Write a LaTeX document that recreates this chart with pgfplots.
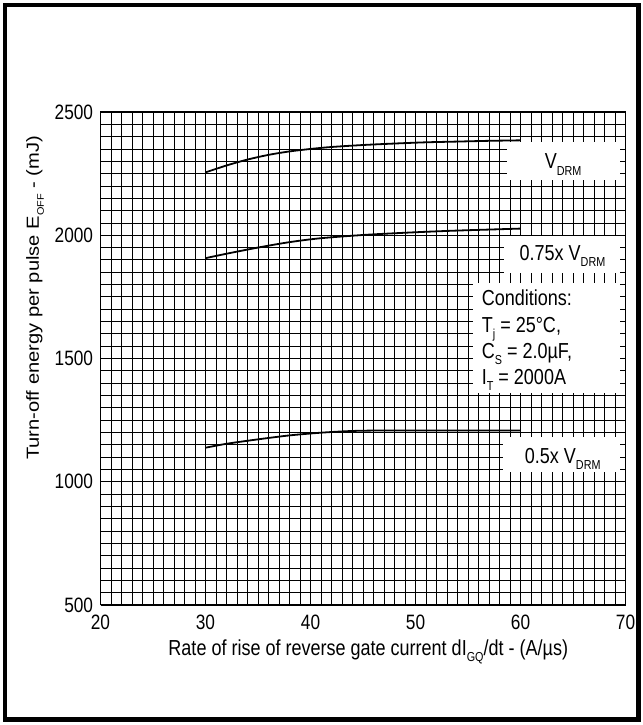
\documentclass[border=0pt]{standalone}
\usepackage{pgfplots}
\pgfplotsset{compat=1.18}
\usepackage{fontspec}
% the datasheet lettering is tall and narrow
\setmainfont{Liberation Sans}[FakeStretch=0.83]
\newfontfamily\ylabfont{Liberation Sans}[FakeStretch=1.15]

% subscript as in the datasheet: small and lowered
\newcommand\sub[1]{\raisebox{-6.5bp}{\fontsize{13bp}{13bp}\selectfont #1}}
\newcommand\ysub[1]{\raisebox{-5bp}{\fontsize{9.5bp}{10bp}\selectfont #1}}

% grid below the plots, ticks and axis lines above the white label boxes
\pgfplotsset{
  layers/grid under/.define layer set={
    axis background,axis grid,pre main,main,axis ticks,axis lines,axis tick labels,axis descriptions,axis foreground
  }{
    grid style={/pgfplots/on layer=axis grid},
    tick style={/pgfplots/on layer=axis ticks},
    axis line style={/pgfplots/on layer=axis lines},
    label style={/pgfplots/on layer=axis descriptions},
    ticklabel style={/pgfplots/on layer=axis tick labels},
  },
}

\begin{document}
\fontsize{21.7bp}{25bp}\selectfont
\begin{tikzpicture}
\begin{axis}[
    width=525bp, height=493bp, scale only axis,
    set layers=grid under,
    xmin=20, xmax=70, ymin=500, ymax=2500,
    xtick={20,30,...,70}, ytick={500,1000,...,2500},
    minor x tick num=9, minor y tick num=9,
    grid=both,
    major grid style={black, line width=0.8bp},
    minor grid style={black, line width=0.8bp},
    tick align=inside,
    major tick length=6bp, minor tick length=6bp,
    tick style={black, line width=0.8bp},
    axis line style={line width=1bp},
    /pgf/number format/assume math mode=true,
    /pgf/number format/set thousands separator={},
    ticklabel style={font=\fontsize{20.8bp}{24bp}\selectfont},
    xticklabel style={yshift=-3bp},
    yticklabel style={xshift=0bp},
    xlabel={Rate of rise of reverse gate current dI\sub{GQ}/dt - (A/µs)},
    ylabel={Turn-off energy per pulse E\ysub{OFF} - (mJ)},
    xlabel style={at={(axis description cs:0.51,0)}, anchor=base, yshift=-50bp},
    ylabel style={at={(axis description cs:-0.1248,0.623)}, anchor=center,
      font=\ylabfont\fontsize{17.5bp}{20bp}\selectfont},
  ]
  \coordinate (P) at (rel axis cs:0,0);

  % white label boxes over the grid
  \fill[white] (axis cs:58.7,2225) rectangle (axis cs:70,2377);
  \fill[white] (axis cs:58.4,1846) rectangle (axis cs:70,1995);
  \fill[white] (axis cs:55.5,1360) rectangle (axis cs:70,1808);
  \fill[white] (axis cs:58.3,1040) rectangle (axis cs:70,1180);

  % V_DRM
  \addplot[black, line width=1.8bp, smooth, tension=0.5] coordinates {
    (30,2255) (32,2283) (34,2307) (36,2326) (38,2340) (40,2350) (42,2358)
    (45,2366) (48,2372) (51,2377) (54,2380) (57,2383) (60,2385)
  };
  % 0.75x V_DRM
  \addplot[black, line width=1.8bp, smooth, tension=0.5] coordinates {
    (30,1907) (32,1925) (35,1950) (38,1972) (41,1988) (45,2001) (48,2008)
    (51,2014) (54,2019) (57,2023) (60,2027)
  };
  % 0.5x V_DRM
  \addplot[black, line width=1.8bp, smooth, tension=0.5] coordinates {
    (30,1138) (32,1154) (35,1172) (38,1188) (41,1199) (44,1206) (47,1208)
    (50,1208) (55,1208) (60,1208)
  };

  \node[anchor=base west, inner sep=0] at (axis cs:62.3,2269) {V\sub{DRM}};
  \node[anchor=base west, inner sep=0] at (axis cs:59.9,1898) {0.75x V\sub{DRM}};
  \node[anchor=base west, inner sep=0] at (axis cs:56.3,1714) {Conditions:};
  \node[anchor=base west, inner sep=0] at (axis cs:56.3,1607) {T\sub{j} = 25°C,};
  \node[anchor=base west, inner sep=0] at (axis cs:56.3,1501) {C\sub{S} = 2.0µF,};
  \node[anchor=base west, inner sep=0] at (axis cs:56.3,1395) {I\sub{T} = 2000A};
  \node[anchor=base west, inner sep=0] at (axis cs:60.4,1075) {0.5x V\sub{DRM}};
\end{axis}
% page frame, placed from the lower left corner of the plot area
\begin{scope}[shift={(P)}, x=1bp, y=1bp]
  \path (-100.5,-120) rectangle (542.5,605);
  \draw[line width=4.5bp] (-95.5,-114.5) rectangle (538,600);
\end{scope}
\end{tikzpicture}
\end{document}
